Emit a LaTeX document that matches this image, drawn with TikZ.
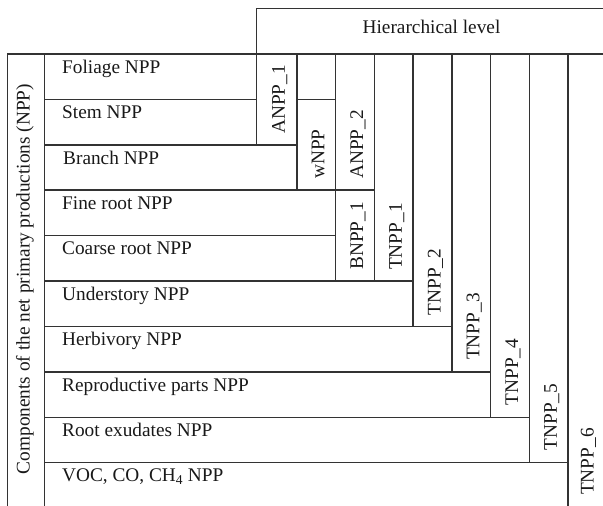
\documentclass[tikz,border=0pt]{standalone}
\usepackage{fontspec}
\setmainfont{Liberation Serif}
\tikzset{
  rule/.style={line width=1.1pt, draw=black!80, line cap=rect},
  rowtext/.style={anchor=base west, inner sep=0pt, text=black!90, font=\fontsize{19.3}{23}\selectfont},
  collabel/.style={anchor=base west, rotate=90, inner sep=0pt, text=black!90, font=\fontsize{19.3}{23}\selectfont},
  headtext/.style={anchor=base, inner sep=0pt, text=black!90, font=\fontsize{19.3}{23}\selectfont}
}
\begin{document}
\begin{tikzpicture}[x=1pt,y=-1pt]
\useasboundingbox (0,0) rectangle (603,506);
% column x positions
\def\XA{7.5}\def\XB{44.5}
\def\cA{256.5}\def\cB{297}\def\cC{335.5}\def\cD{374.5}\def\cE{413}
\def\cF{452}\def\cG{490.5}\def\cH{529.5}\def\cI{568}
% row y positions
\def\rA{54}\def\rB{99.5}\def\rC{145}\def\rD{190}\def\rE{235.5}
\def\rF{281}\def\rG{326.5}\def\rH{372}\def\rI{417.5}\def\rJ{462.5}

% header
\draw[rule] (603,8.5) -- (\cA,8.5) -- (\cA,\rA);
\node[headtext] (hier) at (431.5,33.5) {Hierarchical level};

% frame
\draw[rule] (\XA,\rA) -- (603,\rA);
\draw[rule] (\XA,\rA) -- (\XA,506);
\draw[rule] (\XB,\rA) -- (\XB,506);

% horizontal row lines
\draw[rule] (\XB,\rB) -- (\cA,\rB);
\draw[rule] (\cB,\rB) -- (\cC,\rB);
\draw[rule] (\XB,\rC) -- (\cB,\rC);
\draw[rule] (\XB,\rD) -- (\cD,\rD);
\draw[rule] (\XB,\rE) -- (\cC,\rE);
\draw[rule] (\XB,\rF) -- (\cE,\rF);
\draw[rule] (\XB,\rG) -- (\cF,\rG);
\draw[rule] (\XB,\rH) -- (\cG,\rH);
\draw[rule] (\XB,\rI) -- (\cH,\rI);
\draw[rule] (\XB,\rJ) -- (\cI,\rJ);

% vertical column lines
\draw[rule] (\cA,\rA) -- (\cA,\rC);
\draw[rule] (\cB,\rA) -- (\cB,\rD);
\draw[rule] (\cC,\rA) -- (\cC,\rF);
\draw[rule] (\cD,\rA) -- (\cD,\rF);
\draw[rule] (\cE,\rA) -- (\cE,\rG);
\draw[rule] (\cF,\rA) -- (\cF,\rH);
\draw[rule] (\cG,\rA) -- (\cG,\rI);
\draw[rule] (\cH,\rA) -- (\cH,\rJ);
\draw[rule] (\cI,\rA) -- (\cI,506);

% left side label
\node[anchor=base, rotate=90, inner sep=0pt, text=black!90, font=\fontsize{19.3}{23}\selectfont] (comp) at (29.5,279) {Components of the net primary productions (NPP)};

% row texts
\node[rowtext] (fol) at (62,\rA+19) {Foliage NPP};
\node[rowtext] (stem) at (62,\rB+19) {Stem NPP};
\node[rowtext] (bra) at (63,\rC+19) {Branch NPP};
\node[rowtext] (fine) at (62,\rD+19) {Fine root NPP};
\node[rowtext] (coar) at (62,\rE+19) {Coarse root NPP};
\node[rowtext] (und) at (62,\rF+19) {Understory NPP};
\node[rowtext] (herb) at (62,\rG+19) {Herbivory NPP};
\node[rowtext] (rep) at (62,\rH+19) {Reproductive parts NPP};
\node[rowtext] (rex) at (62,\rI+19) {Root exudates NPP};
\node[rowtext] (voc) at (62,\rJ+19) {VOC, CO, CH\textsubscript{4} NPP};

% column labels
\node[collabel] (anppA) at ({(\cA+\cB)/2+8},\rC-11) {ANPP\_1};
\node[collabel] (wnpp) at ({(\cB+\cC)/2+8},\rD-11) {wNPP};
\node[collabel] (anppB) at ({(\cC+\cD)/2+8},\rD-11) {ANPP\_2};
\node[collabel] (bnpp) at ({(\cC+\cD)/2+8},\rF-11) {BNPP\_1};
\node[collabel] (tnppA) at ({(\cD+\cE)/2+8},\rF-11) {TNPP\_1};
\node[collabel] (tnppB) at ({(\cE+\cF)/2+8},\rG-11) {TNPP\_2};
\node[collabel] (tnppC) at ({(\cF+\cG)/2+8},\rH-12) {TNPP\_3};
\node[collabel] (tnppD) at ({(\cG+\cH)/2+8},\rI-12) {TNPP\_4};
\node[collabel] (tnppE) at ({(\cH+\cI)/2+8},\rJ-12) {TNPP\_5};
\node[collabel] (tnppF) at ({(\cI+603)/2+8},506-11) {TNPP\_6};
\end{tikzpicture}
\end{document}
